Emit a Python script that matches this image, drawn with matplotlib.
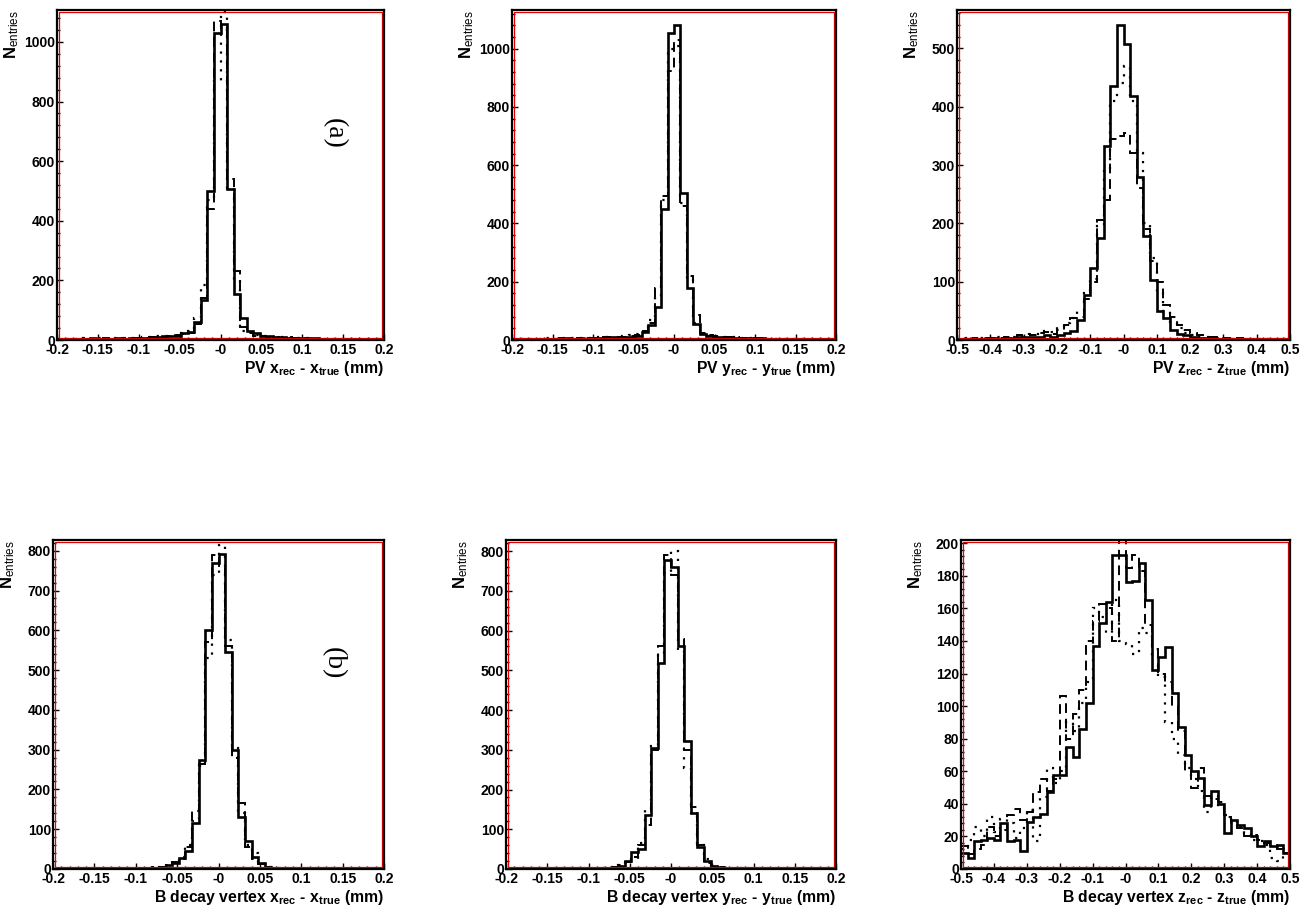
import numpy as np
import matplotlib
matplotlib.use('Agg')
import matplotlib.pyplot as plt
from matplotlib.patches import Rectangle
from matplotlib.ticker import FixedLocator, MultipleLocator

plt.rcParams['font.family'] = ['Liberation Sans', 'DejaVu Sans']
plt.rcParams['mathtext.fontset'] = 'custom'
plt.rcParams['mathtext.rm'] = 'Liberation Sans'
plt.rcParams['mathtext.bf'] = 'Liberation Sans:bold'
plt.rcParams['mathtext.it'] = 'Liberation Sans:italic'

# ---------------- data (50 bins per histogram) ----------------
pvx_solid = [3, 4, 2, 5, 4, 6, 3, 5, 4, 6,
             5, 7, 6, 8, 9, 10, 12, 15, 15, 25,
             28, 60, 135, 500, 1030, 1060, 505, 155, 75, 30,
             25, 14, 12, 11, 10, 8, 8, 7, 6, 6,
             5, 5, 4, 5, 3, 4, 3, 3, 2, 3]
pvx_dashed = [2, 3, 4, 3, 5, 4, 5, 6, 4, 5,
              6, 6, 8, 7, 10, 9, 11, 13, 18, 20,
              22, 55, 140, 440, 1070, 1040, 540, 230, 45, 25,
              15, 12, 10, 9, 8, 9, 7, 6, 5, 5,
              4, 4, 5, 3, 3, 3, 2, 3, 2, 2]
pvx_dotted = [4, 3, 3, 5, 6, 4, 6, 5, 7, 6,
              7, 8, 7, 9, 10, 12, 13, 14, 20, 24,
              30, 75, 185, 470, 870, 1100, 510, 200, 30, 28,
              18, 14, 13, 10, 9, 8, 7, 7, 6, 5,
              5, 4, 4, 4, 3, 3, 3, 2, 3, 2]

pvy_solid = [3, 2, 4, 3, 5, 4, 3, 5, 6, 4,
             6, 5, 7, 8, 7, 9, 8, 10, 12, 15,
             26, 50, 115, 450, 1055, 1083, 505, 180, 55, 20,
             14, 12, 10, 10, 8, 8, 7, 6, 6, 5,
             5, 4, 4, 3, 4, 3, 3, 2, 2, 2]
pvy_dashed = [2, 3, 3, 4, 4, 5, 4, 6, 5, 5,
              7, 6, 8, 7, 9, 10, 9, 12, 14, 18,
              30, 60, 180, 495, 925, 1030, 460, 220, 85, 25,
              16, 13, 12, 10, 9, 8, 7, 7, 6, 5,
              4, 5, 4, 3, 3, 3, 2, 3, 2, 2]
pvy_dotted = [4, 3, 5, 4, 3, 6, 5, 4, 6, 7,
              6, 8, 7, 9, 10, 8, 11, 13, 16, 20,
              28, 70, 150, 480, 1000, 1010, 470, 210, 60, 22,
              15, 12, 11, 9, 9, 7, 8, 6, 5, 5,
              4, 4, 3, 4, 3, 2, 3, 2, 2, 2]

pvz_solid = [1, 2, 1, 2, 2, 3, 2, 3, 4, 5,
             5, 6, 6, 8, 5, 8, 12, 15, 35, 78,
             123, 175, 333, 435, 540, 507, 418, 280, 178, 103,
             50, 38, 18, 10, 8, 5, 4, 3, 3, 2,
             2, 2, 1, 1, 2, 1, 1, 1, 0, 1]
pvz_dashed = [2, 2, 3, 2, 3, 4, 3, 5, 6, 8,
              10, 9, 12, 14, 10, 18, 25, 38, 40, 70,
              100, 205, 240, 345, 350, 355, 320, 260, 190, 135,
              100, 60, 40, 25, 18, 12, 8, 6, 5, 3,
              3, 2, 3, 2, 1, 2, 1, 1, 1, 1]
pvz_dotted = [1, 3, 2, 3, 4, 3, 5, 4, 6, 7,
              8, 10, 11, 15, 14, 22, 30, 38, 50, 80,
              105, 195, 290, 410, 440, 470, 410, 320, 200, 140,
              80, 50, 30, 20, 12, 8, 6, 5, 4, 3,
              2, 2, 2, 1, 2, 1, 1, 0, 1, 1]

bx_solid = [0, 0, 1, 0, 0, 1, 0, 0, 1, 0,
            1, 0, 1, 1, 2, 3, 5, 10, 15, 28,
            45, 115, 275, 600, 770, 792, 545, 300, 130, 70,
            30, 15, 5, 3, 2, 1, 1, 0, 1, 0,
            0, 1, 0, 0, 0, 1, 0, 0, 0, 0]
bx_dashed = [0, 1, 0, 0, 1, 0, 0, 1, 0, 0,
             0, 1, 1, 2, 2, 4, 6, 10, 18, 25,
             55, 145, 265, 570, 790, 760, 560, 280, 165, 55,
             25, 12, 6, 3, 2, 1, 0, 1, 0, 0,
             1, 0, 0, 0, 1, 0, 0, 0, 0, 1]
bx_dotted = [1, 0, 0, 1, 0, 0, 1, 0, 0, 1,
             0, 0, 1, 1, 3, 3, 5, 12, 15, 30,
             60, 120, 260, 530, 740, 815, 575, 305, 140, 60,
             40, 12, 5, 2, 2, 1, 1, 0, 0, 1,
             0, 0, 1, 0, 0, 0, 1, 0, 0, 0]

by_solid = [0, 0, 0, 1, 0, 0, 0, 1, 0, 0,
            0, 1, 1, 1, 2, 3, 5, 8, 20, 42,
            50, 135, 305, 518, 778, 760, 560, 322, 142, 55,
            20, 8, 5, 2, 1, 1, 0, 1, 0, 0,
            0, 0, 1, 0, 0, 0, 0, 0, 1, 0]
by_dashed = [0, 1, 0, 0, 0, 1, 0, 0, 0, 1,
             1, 0, 1, 2, 2, 3, 6, 10, 18, 30,
             60, 110, 300, 560, 790, 740, 580, 300, 155, 60,
             15, 6, 4, 2, 2, 1, 1, 0, 0, 0,
             1, 0, 0, 0, 0, 1, 0, 0, 0, 0]
by_dotted = [1, 0, 0, 0, 1, 0, 0, 0, 1, 0,
             0, 1, 0, 1, 3, 4, 5, 9, 15, 25,
             65, 150, 310, 540, 745, 800, 550, 255, 140, 65,
             25, 10, 5, 3, 1, 2, 0, 1, 0, 0,
             0, 1, 0, 0, 0, 0, 0, 1, 0, 0]

bz_solid = [10, 7, 17, 18, 19, 18, 28, 17, 18, 11,
            29, 32, 34, 47, 58, 58, 75, 69, 86, 102,
            137, 151, 164, 193, 193, 176, 177, 188, 165, 122,
            130, 136, 108, 87, 70, 60, 56, 39, 48, 40,
            22, 30, 27, 25, 20, 14, 17, 14, 15, 10]
bz_dashed = [14, 9, 12, 15, 26, 20, 24, 33, 37, 30,
             35, 47, 55, 48, 55, 106, 80, 95, 110, 140,
             152, 163, 160, 140, 205, 185, 193, 183, 150, 135,
             120, 115, 100, 85, 60, 50, 62, 45, 43, 41,
             32, 28, 25, 20, 21, 18, 16, 15, 12, 10]
bz_dotted = [12, 18, 26, 20, 32, 23, 31, 28, 19, 25,
             36, 17, 44, 62, 53, 60, 90, 85, 102, 115,
             160, 155, 145, 165, 140, 138, 132, 148, 145, 130,
             118, 90, 80, 70, 62, 55, 48, 35, 45, 38,
             33, 30, 26, 22, 18, 17, 15, 7, 5, 12]

xt_narrow = ['-0.2', '-0.15', '-0.1', '-0.05', '-0', '0.05', '0.1', '0.15', '0.2']
xt_wide = ['-0.5', '-0.4', '-0.3', '-0.2', '-0.1', '-0', '0.1', '0.2', '0.3', '0.4', '0.5']

xlabels = [r'PV x$_{\mathbf{rec}}$ - x$_{\mathbf{true}}$ (mm)',
           r'PV y$_{\mathbf{rec}}$ - y$_{\mathbf{true}}$ (mm)',
           r'PV z$_{\mathbf{rec}}$ - z$_{\mathbf{true}}$ (mm)',
           r'B decay vertex x$_{\mathbf{rec}}$ - x$_{\mathbf{true}}$ (mm)',
           r'B decay vertex y$_{\mathbf{rec}}$ - y$_{\mathbf{true}}$ (mm)',
           r'B decay vertex z$_{\mathbf{rec}}$ - z$_{\mathbf{true}}$ (mm)']
ylabel = r'$\mathbf{N}_{\mathrm{entries}}$'
tags = ['(a)', None, None, '(b)', None, None]

# ---------------- layout ----------------
W, H = 1308, 911
fig = plt.figure(figsize=(W / 100, H / 100), dpi=100)

# (left, top, right, bottom) in pixels
boxes = [(57, 10, 384, 340), (512, 10, 836, 340), (957, 10, 1290, 340),
         (53, 540, 384, 869), (506, 540, 836, 869), (961, 540, 1290, 869)]

panels = [
    dict(s=pvx_solid, d=pvx_dashed, o=pvx_dotted, lim=0.2, xmin=0.01,
         xt=xt_narrow, ymax=1107, ymaj=200, ymin=40),
    dict(s=pvy_solid, d=pvy_dashed, o=pvy_dotted, lim=0.2, xmin=0.01,
         xt=xt_narrow, ymax=1133, ymaj=200, ymin=40),
    dict(s=pvz_solid, d=pvz_dashed, o=pvz_dotted, lim=0.5, xmin=0.02,
         xt=xt_wide, ymax=566, ymaj=100, ymin=20),
    dict(s=bx_solid, d=bx_dashed, o=bx_dotted, lim=0.2, xmin=0.01,
         xt=xt_narrow, ymax=827, ymaj=100, ymin=20),
    dict(s=by_solid, d=by_dashed, o=by_dotted, lim=0.2, xmin=0.01,
         xt=xt_narrow, ymax=828, ymaj=100, ymin=20),
    dict(s=bz_solid, d=bz_dashed, o=bz_dotted, lim=0.5, xmin=0.02,
         xt=xt_wide, ymax=202, ymaj=20, ymin=4),
]

for k, (p, box) in enumerate(zip(panels, boxes)):
    l, t, r, b = box
    ax = fig.add_axes([l / W, 1 - b / H, (r - l) / W, (b - t) / H])
    lim = p['lim']
    edges = np.linspace(-lim, lim, len(p['s']) + 1)
    ax.stairs(p['o'], edges, color='black', lw=1.6, linestyle=(0, (1, 3.0)), baseline=None)
    ax.stairs(p['d'], edges, color='black', lw=1.4, linestyle=(0, (5, 3)), baseline=None)
    ax.stairs(p['s'], edges, color='black', lw=1.9, baseline=None)
    ax.set_xlim(-lim, lim)
    ax.set_ylim(0, p['ymax'])

    n = len(p['xt'])
    ax.xaxis.set_major_locator(FixedLocator(np.linspace(-lim, lim, n)))
    ax.set_xticklabels(p['xt'])
    ax.xaxis.set_minor_locator(MultipleLocator(p['xmin']))
    ax.yaxis.set_major_locator(MultipleLocator(p['ymaj']))
    ax.yaxis.set_minor_locator(MultipleLocator(p['ymin']))
    ax.tick_params(which='both', direction='in', top=False, right=False, width=1.0)
    ax.tick_params(which='major', length=4.5, labelsize=10)
    ax.tick_params(axis='x', which='major', pad=2.4)
    ax.tick_params(axis='y', which='major', pad=1.5)
    ax.tick_params(which='minor', length=2.3)
    for lab in ax.get_xticklabels() + ax.get_yticklabels():
        lab.set_fontweight('bold')
    for sp in ax.spines.values():
        sp.set_linewidth(1.6)
        sp.set_zorder(5)

    # thin red inner frame (ROOT style)
    wpx, hpx = (r - l), (b - t)
    dx, dy = 1.8 / wpx, 1.8 / hpx
    ax.add_patch(Rectangle((dx, dy), 1 - 2 * dx, 1 - 2 * dy, transform=ax.transAxes,
                           fill=False, edgecolor='#e00000', lw=0.9, zorder=4, clip_on=False))

    ax.annotate(xlabels[k], xy=(1, 0), xycoords='axes fraction', xytext=(0, -23.5),
                textcoords='offset points', ha='right', va='baseline',
                fontsize=11.3, fontweight='bold')
    ax.annotate(ylabel, xy=(0, 1), xycoords='axes fraction', xytext=(-33, 0),
                textcoords='offset points', ha='center', va='top', rotation=90,
                fontsize=12)
    if tags[k]:
        ax.text(0.847, 0.627, tags[k], transform=ax.transAxes, rotation=-90,
                ha='center', va='center', fontsize=20, family='Liberation Serif')

fig.savefig('out.png', dpi=100)
